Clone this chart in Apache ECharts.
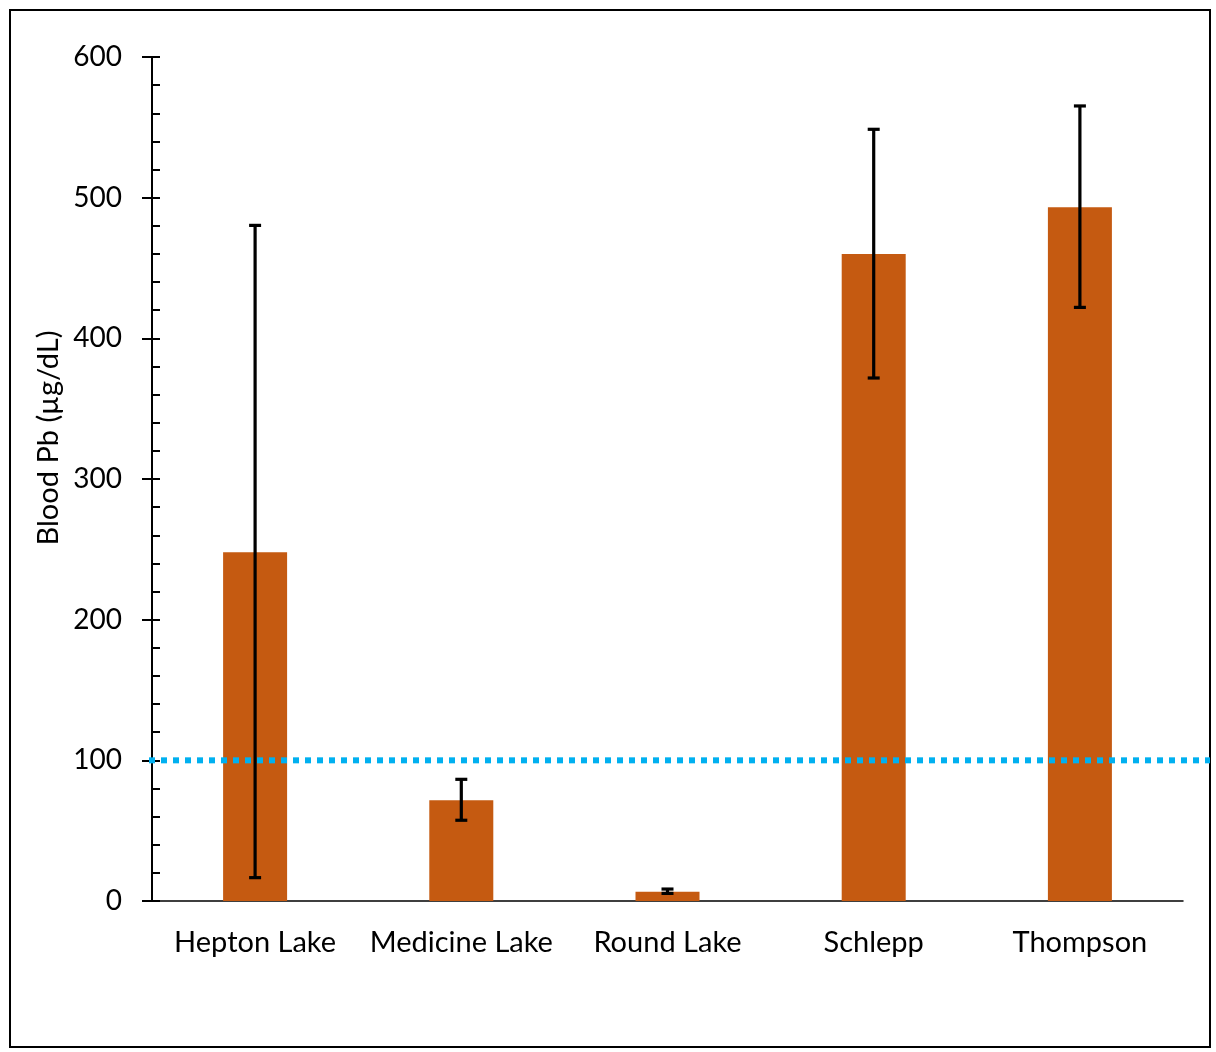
<!DOCTYPE html>
<html>
<head>
<meta charset="utf-8">
<script src="https://cdn.jsdelivr.net/npm/echarts@6/dist/echarts.min.js"></script>
<style>
html,body{margin:0;padding:0;background:#fff;}
#c{width:1216px;height:1052px;}
</style>
</head>
<body>
<div id="c"></div>
<script>
const categories = ['Hepton Lake', 'Medicine Lake', 'Round Lake', 'Schlepp', 'Thompson'];
const means = [248, 71.6, 6.6, 460, 493.2];
const errLow = [16.6, 57.4, 5.4, 371.8, 422];
const errHigh = [480.3, 86.5, 8.5, 548.6, 565.2];
const thresholdValue = 100;
const yTicks = [0, 100, 200, 300, 400, 500, 600];
const yTitle = 'Blood Pb (µg/dL)';

const FONT = 'Lato';
const chart = echarts.init(document.getElementById('c'), null, {renderer: 'canvas'});

const errData = categories.map((c, i) => [i, errLow[i], errHigh[i]]);

const option = {
  animation: false,
  backgroundColor: '#fff',
  grid: {left: 152, right: 33, top: 57, bottom: 151, containLabel: false},
  xAxis: {
    type: 'category',
    data: categories,
    axisLine: {show: true, lineStyle: {color: '#000', width: 1.5}},
    axisTick: {show: false},
    axisLabel: {fontFamily: FONT, fontSize: 29, color: '#000', margin: 27, interval: 0},
    splitLine: {show: false}
  },
  yAxis: [{
    type: 'value',
    min: yTicks[0],
    max: yTicks[yTicks.length - 1],
    interval: 100,
    axisLine: {show: true, lineStyle: {color: '#000', width: 2}},
    axisTick: {show: true, inside: false, length: 10, lineStyle: {color: '#000', width: 2}},
    axisLabel: {fontFamily: FONT, fontSize: 28, color: '#000', margin: 30},
    splitLine: {show: false}
  }, {
    type: 'value',
    position: 'left',
    min: yTicks[0],
    max: yTicks[yTicks.length - 1],
    interval: 20,
    axisLine: {show: false},
    axisTick: {show: true, inside: true, length: 8, lineStyle: {color: '#000', width: 2}},
    axisLabel: {show: false},
    splitLine: {show: false}
  }],
  series: [{
    type: 'bar',
    data: means,
    barWidth: 64,
    itemStyle: {color: '#C55A11'},
    z: 2
  }, {
    type: 'custom',
    data: errData,
    z: 5,
    renderItem: function (params, api) {
      const x = api.value(0);
      const lo = api.coord([x, api.value(1)]);
      const hi = api.coord([x, api.value(2)]);
      const hw = 6;
      const style = {stroke: '#000', lineWidth: 3.2};
      return {
        type: 'group',
        children: [
          {type: 'line', shape: {x1: lo[0], y1: lo[1], x2: hi[0], y2: hi[1]}, style: style},
          {type: 'line', shape: {x1: lo[0] - hw, y1: lo[1], x2: lo[0] + hw, y2: lo[1]}, style: style},
          {type: 'line', shape: {x1: hi[0] - hw, y1: hi[1], x2: hi[0] + hw, y2: hi[1]}, style: style}
        ]
      };
    }
  }]
};
chart.setOption(option);

const yLine = chart.convertToPixel({yAxisIndex: 0}, thresholdValue);
chart.setOption({
  graphic: [
    {type: 'rect', shape: {x: 10, y: 10, width: 1200, height: 1037}, style: {fill: 'none', stroke: '#000', lineWidth: 2}, z: 0, silent: true},
    {type: 'line', shape: {x1: 149, y1: yLine, x2: 1210, y2: yLine}, style: {stroke: '#00B0F0', lineWidth: 6, lineDash: [6, 6]}, z: 10, silent: true},
    {type: 'text', x: 49, y: 438, rotation: Math.PI / 2, style: {text: yTitle, fontFamily: FONT, fontSize: 29, fill: '#000', align: 'center', verticalAlign: 'middle'}, z: 10}
  ]
});
</script>
</body>
</html>
